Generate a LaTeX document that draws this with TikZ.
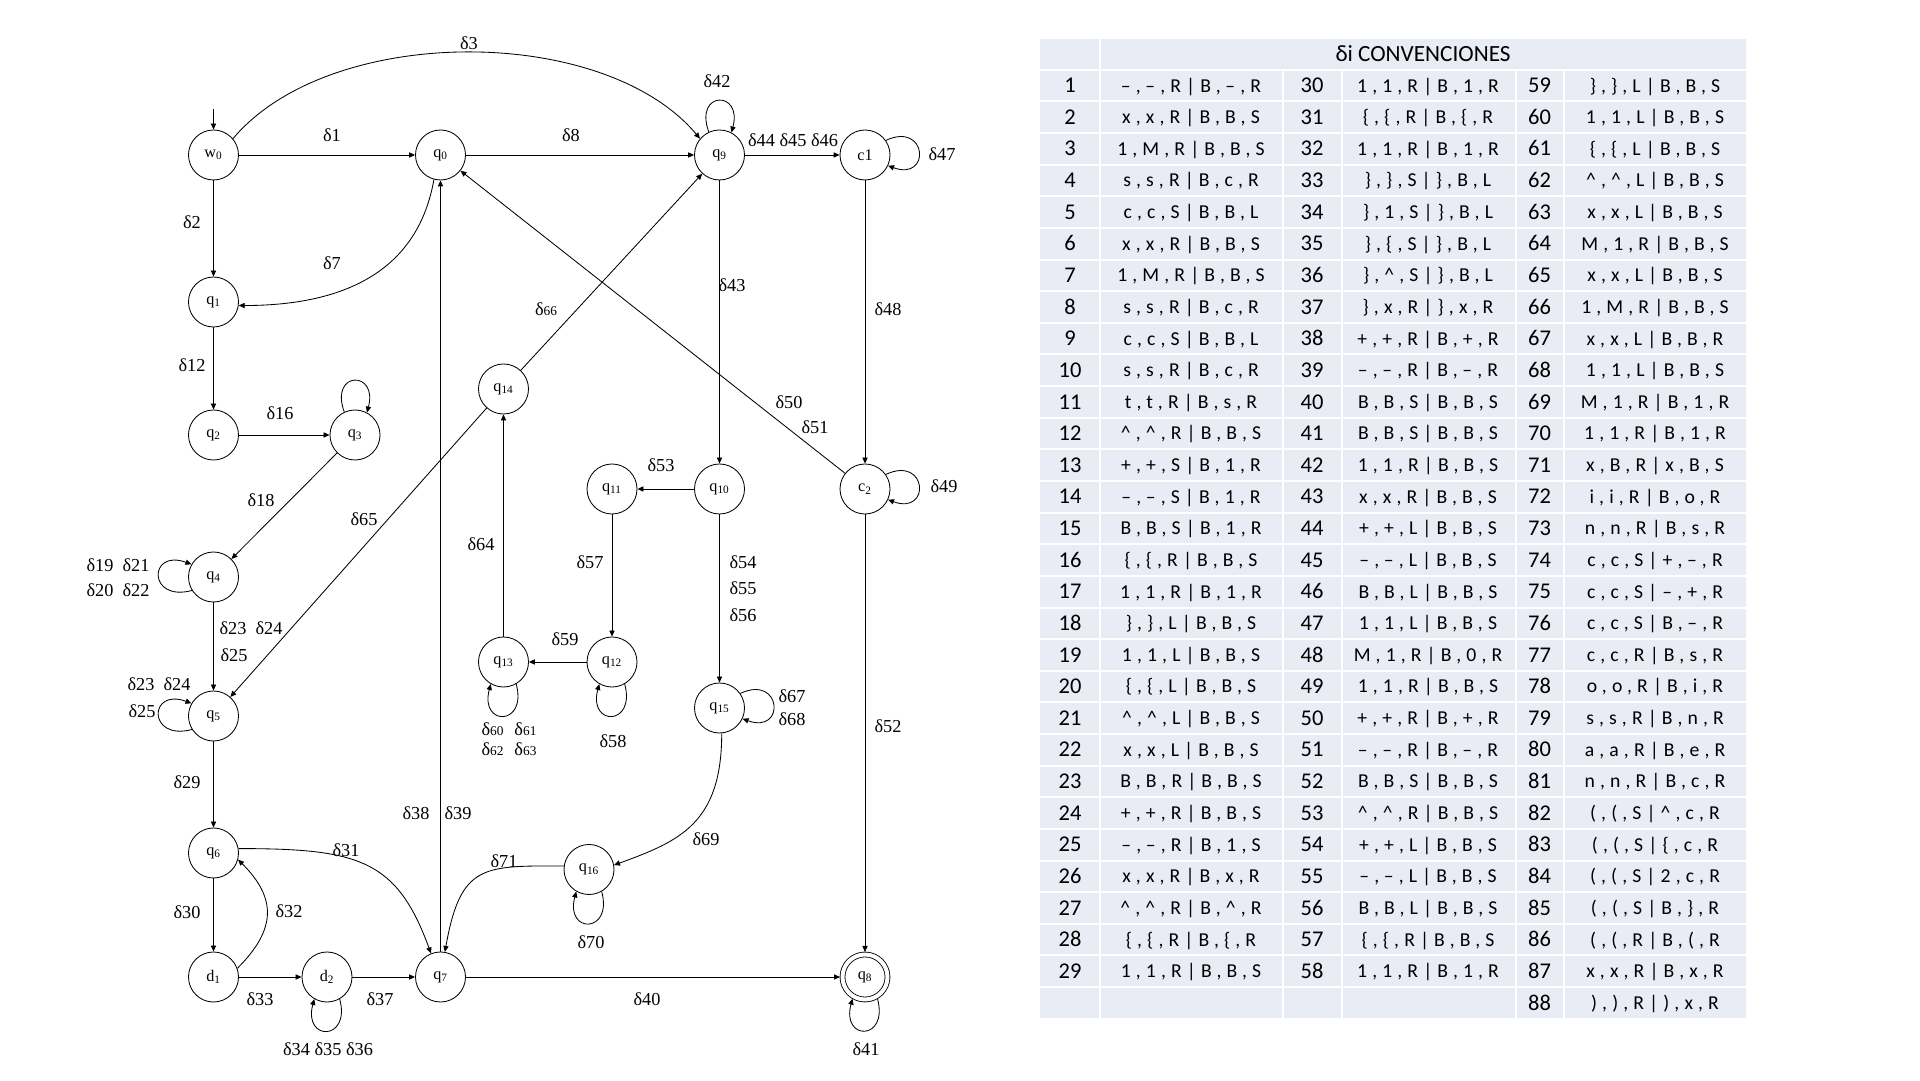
\documentclass[tikz,border=0pt]{standalone}
\usepackage{fontspec}
\setmainfont{Liberation Serif}
\newfontfamily\numfont{Carlito}
\newfontfamily\cellfont[LetterSpace=26]{Carlito}
\usetikzlibrary{arrows.meta}

\definecolor{cellfill}{RGB}{233,235,245}
\newcommand{\crt}{\textasciicircum}
\newcommand{\sm}[1]{{\fontsize{9.5}{9.5}\selectfont #1}}

\tikzset{
  state/.style={circle, draw, minimum size=1.25cm, inner sep=0pt, font=\fontsize{11.5}{12}\selectfont},
  accept/.style={state, minimum size=1.125cm, double, double distance=0.1cm, outer sep=0.0625cm},
  dl/.style={font=\fontsize{13}{13}\selectfont, inner sep=0pt},
  numtxt/.style={font=\numfont\fontsize{16}{16}\selectfont, inner sep=0pt, text height=10pt, text depth=0pt},
  celltxt/.style={font=\cellfont\fontsize{14}{14}\selectfont, inner sep=0pt, text height=9pt, text depth=0pt},
  sep/.style={white, line width=0.05cm}
}

% one row of the table
\newcommand{\trow}[7]{%
  \node[numtxt] (t#1a) at (1070,{994.3-31.63*(#1-1)}) {#2};
  \node[celltxt] (t#1b) at (1191,{994.3-31.63*(#1-1)}) {#3};
  \node[numtxt] (t#1c) at (1312,{994.3-31.63*(#1-1)}) {#4};
  \node[celltxt] (t#1d) at (1428,{994.3-31.63*(#1-1)}) {#5};
  \node[numtxt] (t#1e) at (1539.5,{994.3-31.63*(#1-1)}) {#6};
  \node[celltxt] (t#1f) at (1655,{994.3-31.63*(#1-1)}) {#7};
}

\begin{document}
\begin{tikzpicture}[x=0.025cm, y=0.025cm, line width=0.6pt, >={Triangle[length=0.15cm, width=0.13cm]}]
    \useasboundingbox (0,0) rectangle (1920,1080);

    % states
    \node[state] (w0) at (213.5,925) {w\textsubscript{0}};
    \node[state] (q0) at (440.5,925) {q\textsubscript{0}};
    \node[state] (q9) at (719.5,925) {q\textsubscript{9}};
    \node[state] (c1) at (865,925) {c1};
    \node[state] (q1) at (213.5,778) {q\textsubscript{1}};
    \node[state] (q2) at (213.5,645) {q\textsubscript{2}};
    \node[state] (q3) at (355,645) {q\textsubscript{3}};
    \node[state] (q14) at (503.5,691) {q\textsubscript{14}};
    \node[state] (q11) at (612,591) {q\textsubscript{11}};
    \node[state] (q10) at (719.5,591) {q\textsubscript{10}};
    \node[state] (c2) at (865,591) {c\textsubscript{2}};
    \node[state] (q4) at (213.5,503) {q\textsubscript{4}};
    \node[state] (q13) at (503.5,418) {q\textsubscript{13}};
    \node[state] (q12) at (612,418) {q\textsubscript{12}};
    \node[state] (q15) at (719.5,372) {q\textsubscript{15}};
    \node[state] (q5) at (213.5,364) {q\textsubscript{5}};
    \node[state] (q6) at (213.5,227) {q\textsubscript{6}};
    \node[state] (q16) at (589,210.5) {q\textsubscript{16}};
    \node[state] (d1) at (213.5,103) {d\textsubscript{1}};
    \node[state] (d2) at (327,103) {d\textsubscript{2}};
    \node[state] (q7) at (440.5,103) {q\textsubscript{7}};
    \node[accept] (q8) at (865,103) {q\textsubscript{8}};
    \coordinate (init) at (213.5,971);

    % transitions
    \draw[->] (init) -- (w0);
    \draw[->] (w0) -- (q0);
    \draw[->] (w0.40) .. controls +(50:150) and +(130:150) .. (q9.140);
    \draw[->] (w0) -- (q1);
    \draw[->] (q0) -- (q9);
    \draw[->] (q0.-105) .. controls +(-100:90) and +(0:110) .. (q1.-8);
    \draw[->] (q9.115) .. controls +(110:44) and +(75:44) .. (q9.62);
    \draw[->] (q9) -- (c1);
    \draw[->] (c1.35) .. controls +(25:46) and +(-20:46) .. (c1.-25);
    \draw[->] (q9) -- (q10);
    \draw[->] (c1) -- (c2);
    \draw[->] (c2) -- (q0);
    \draw[->] (c2.35) .. controls +(25:46) and +(-20:46) .. (c2.-25);
    \draw[->] (c2) -- (q8);
    \draw[->] (q1) -- (q2);
    \draw[->] (q2) -- (q3);
    \draw[->] (q3.115) .. controls +(110:44) and +(75:44) .. (q3.62);
    \draw[->] (q3) -- (q4);
    \draw[->] (q4.-148) .. controls +(-165:46) and +(160:46) .. (q4.150);
    \draw[->] (q4) -- (q5);
    \draw[->] (q14) -- (q9);
    \draw[->] (q14) -- (q5);
    \draw[->] (q5.-148) .. controls +(-165:46) and +(160:46) .. (q5.150);
    \draw[->] (q5) -- (q6);
    \draw[->] (q6) -- (d1);
    \draw[->] (d1.20) .. controls +(45:55) and +(-45:55) .. (q6.-15);
    \draw[->] (q6.10) .. controls +(0:120) and +(110:100) .. (q7.112);
    \draw[->] (d1) -- (d2);
    \draw[->] (d2.-60) .. controls +(-75:44) and +(-105:44) .. (d2.-120);
    \draw[->] (d2) -- (q7);
    \draw[->] (q7) -- (q0);
    \draw[->] (q7) -- (q8);
    \draw[->] (q8.-60) .. controls +(-75:44) and +(-105:44) .. (q8.-120);
    \draw[->] (q10) -- (q11);
    \draw[->] (q11) -- (q12);
    \draw[->] (q12) -- (q13);
    \draw[->] (q12.-60) .. controls +(-75:44) and +(-105:44) .. (q12.-120);
    \draw[->] (q13.-60) .. controls +(-75:44) and +(-105:44) .. (q13.-120);
    \draw[->] (q13) -- (q14);
    \draw[->] (q10) -- (q15);
    \draw[->] (q15.35) .. controls +(25:46) and +(-20:46) .. (q15.-25);
    \draw[->] (q15.-85) .. controls +(-90:90) and +(20:70) .. (q16.10);
    \draw[->] (q16.-60) .. controls +(-75:44) and +(-105:44) .. (q16.-120);
    \draw[->] (q16.172) .. controls +(180:80) and +(80:90) .. (q7.80);

    % labels
    \node[dl] (l3) at (469,1037) {δ3};
    \node[dl] (l1) at (332,945) {δ1};
    \node[dl] (l8) at (571,945) {δ8};
    \node[dl] (l42) at (717,999) {δ42};
    \node[dl] (l44) at (793,940) {δ44 δ45 δ46};
    \node[dl] (l47) at (942,926) {δ47};
    \node[dl] (l2) at (192,858) {δ2};
    \node[dl] (l7) at (332,817) {δ7};
    \node[dl] (l43) at (732,795) {δ43};
    \node[dl] (l48) at (888,771) {δ48};
    \node[dl] (l66) at (546,771) {δ\sm{66}};
    \node[dl] (l12) at (192,715) {δ12};
    \node[dl] (l16) at (280,667) {δ16};
    \node[dl] (l50) at (789,678) {δ50};
    \node[dl] (l51) at (815,653) {δ51};
    \node[dl] (l53) at (661,615) {δ53};
    \node[dl] (l49) at (944,594) {δ49};
    \node[dl] (l18) at (261,580) {δ18};
    \node[dl] (l65) at (364,561) {δ65};
    \node[dl] (l64) at (481,536) {δ64};
    \node[dl] (l57) at (590,518) {δ57};
    \node[dl] (l54) at (743,518) {δ54};
    \node[dl] (l55) at (743,492) {δ55};
    \node[dl] (l56) at (743,465) {δ56};
    \node[dl] (l19) at (118,515) {δ19\hspace{0.5em}δ21};
    \node[dl] (l20) at (118,490) {δ20\hspace{0.5em}δ22};
    \node[dl] (l23) at (251,452) {δ23\hspace{0.5em}δ24};
    \node[dl] (l25) at (234,425) {δ25};
    \node[dl] (l59) at (565,441) {δ59};
    \node[dl] (l23b) at (159,396) {δ23\hspace{0.5em}δ24};
    \node[dl] (l25b) at (142,369) {δ25};
    \node[dl] (l67) at (792,384) {δ67};
    \node[dl] (l68) at (792,361) {δ68};
    \node[dl] (l60) at (509,351) {δ\sm{60}\hspace{0.6em}δ\sm{61}};
    \node[dl] (l62) at (509,331) {δ\sm{62}\hspace{0.6em}δ\sm{63}};
    \node[dl] (l58) at (613,339) {δ58};
    \node[dl] (l52) at (888,354) {δ52};
    \node[dl] (l29) at (187,298) {δ29};
    \node[dl] (l38) at (416,267) {δ38};
    \node[dl] (l39) at (458,267) {δ39};
    \node[dl] (l31) at (346,230) {δ31};
    \node[dl] (l69) at (706,241) {δ69};
    \node[dl] (l71) at (504,219) {δ71};
    \node[dl] (l30) at (187,168) {δ30};
    \node[dl] (l32) at (289,169) {δ32};
    \node[dl] (l70) at (591,138) {δ70};
    \node[dl] (l33) at (260,81) {δ33};
    \node[dl] (l37) at (380,81) {δ37};
    \node[dl] (l40) at (647,81) {δ40};
    \node[dl] (l34) at (328,31) {δ34 δ35 δ36};
    \node[dl] (l41) at (866,31) {δ41};

    % table of conventions
    \fill[cellfill] (1040,62) rectangle (1746,1041);
    \foreach \i in {0,...,29}
        \draw[sep] (1040,{1010.2-31.63*\i}) -- (1746,{1010.2-31.63*\i});
    \draw[sep] (1100,62) -- (1100,1041);
    \foreach \xx in {1282.5,1341.5,1515.5,1563.5}
        \draw[sep] (\xx,62) -- (\xx,1010.2);
    \node[numtxt, font=\numfont\fontsize{16.5}{16.5}\selectfont] (hdr) at (1423,1026) {δi CONVENCIONES};

    \trow{1}{1}{–,–,R|B,–,R}{30}{1,1,R|B,1,R}{59}{\},\},L|B,B,S}
    \trow{2}{2}{x,x,R|B,B,S}{31}{\{,\{,R|B,\{,R}{60}{1,1,L|B,B,S}
    \trow{3}{3}{1,M,R|B,B,S}{32}{1,1,R|B,1,R}{61}{\{,\{,L|B,B,S}
    \trow{4}{4}{s,s,R|B,c,R}{33}{\},\},S|\},B,L}{62}{\crt,\crt,L|B,B,S}
    \trow{5}{5}{c,c,S|B,B,L}{34}{\},1,S|\},B,L}{63}{x,x,L|B,B,S}
    \trow{6}{6}{x,x,R|B,B,S}{35}{\},\{,S|\},B,L}{64}{M,1,R|B,B,S}
    \trow{7}{7}{1,M,R|B,B,S}{36}{\},\crt,S|\},B,L}{65}{x,x,L|B,B,S}
    \trow{8}{8}{s,s,R|B,c,R}{37}{\},x,R|\},x,R}{66}{1,M,R|B,B,S}
    \trow{9}{9}{c,c,S|B,B,L}{38}{+,+,R|B,+,R}{67}{x,x,L|B,B,R}
    \trow{10}{10}{s,s,R|B,c,R}{39}{–,–,R|B,–,R}{68}{1,1,L|B,B,S}
    \trow{11}{11}{t,t,R|B,s,R}{40}{B,B,S|B,B,S}{69}{M,1,R|B,1,R}
    \trow{12}{12}{\crt,\crt,R|B,B,S}{41}{B,B,S|B,B,S}{70}{1,1,R|B,1,R}
    \trow{13}{13}{+,+,S|B,1,R}{42}{1,1,R|B,B,S}{71}{x,B,R|x,B,S}
    \trow{14}{14}{–,–,S|B,1,R}{43}{x,x,R|B,B,S}{72}{i,i,R|B,o,R}
    \trow{15}{15}{B,B,S|B,1,R}{44}{+,+,L|B,B,S}{73}{n,n,R|B,s,R}
    \trow{16}{16}{\{,\{,R|B,B,S}{45}{–,–,L|B,B,S}{74}{c,c,S|+,–,R}
    \trow{17}{17}{1,1,R|B,1,R}{46}{B,B,L|B,B,S}{75}{c,c,S|–,+,R}
    \trow{18}{18}{\},\},L|B,B,S}{47}{1,1,L|B,B,S}{76}{c,c,S|B,–,R}
    \trow{19}{19}{1,1,L|B,B,S}{48}{M,1,R|B,0,R}{77}{c,c,R|B,s,R}
    \trow{20}{20}{\{,\{,L|B,B,S}{49}{1,1,R|B,B,S}{78}{o,o,R|B,i,R}
    \trow{21}{21}{\crt,\crt,L|B,B,S}{50}{+,+,R|B,+,R}{79}{s,s,R|B,n,R}
    \trow{22}{22}{x,x,L|B,B,S}{51}{–,–,R|B,–,R}{80}{a,a,R|B,e,R}
    \trow{23}{23}{B,B,R|B,B,S}{52}{B,B,S|B,B,S}{81}{n,n,R|B,c,R}
    \trow{24}{24}{+,+,R|B,B,S}{53}{\crt,\crt,R|B,B,S}{82}{(,(,S|\crt,c,R}
    \trow{25}{25}{–,–,R|B,1,S}{54}{+,+,L|B,B,S}{83}{(,(,S|\{,c,R}
    \trow{26}{26}{x,x,R|B,x,R}{55}{–,–,L|B,B,S}{84}{(,(,S|2,c,R}
    \trow{27}{27}{\crt,\crt,R|B,\crt,R}{56}{B,B,L|B,B,S}{85}{(,(,S|B,\},R}
    \trow{28}{28}{\{,\{,R|B,\{,R}{57}{\{,\{,R|B,B,S}{86}{(,(,R|B,(,R}
    \trow{29}{29}{1,1,R|B,B,S}{58}{1,1,R|B,1,R}{87}{x,x,R|B,x,R}
    \trow{30}{}{}{}{}{88}{),),R|),x,R}
\end{tikzpicture}
\end{document}
